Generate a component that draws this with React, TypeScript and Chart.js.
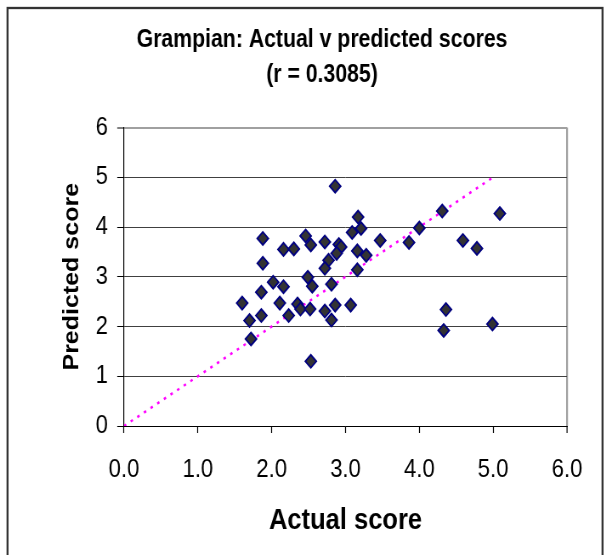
import React, { useEffect, useRef } from "react";
import { Chart, registerables } from "chart.js";

Chart.register(...registerables);

const titleLines = ["Grampian: Actual v predicted scores", "(r = 0.3085)"];
const xAxisTitle = "Actual score";
const yAxisTitle = "Predicted score";

const actualScores = [
  1.6, 1.7, 1.72, 1.88, 1.88, 1.86, 1.86, 2.02, 2.16, 2.3, 2.16, 2.11, 2.23, 2.35,
  2.39, 2.46, 2.53, 2.52, 2.49, 2.55, 2.53, 2.72, 2.77, 2.72, 2.72, 2.81, 2.81,
  2.86, 2.86, 2.91, 2.94, 2.88, 3.07, 3.09, 3.17, 3.21, 3.16, 3.28, 3.16, 3.47,
  3.86, 4.0, 4.31, 4.36, 4.33, 4.59, 4.78, 5.09, 4.99,
];
const predictedScores = [
  2.47, 2.12, 1.75, 3.77, 3.27, 2.69, 2.22, 2.89, 3.55, 3.56, 2.8, 2.47, 2.22, 2.45,
  2.35, 3.82, 3.64, 2.35, 2.99, 2.81, 1.3, 3.7, 3.33, 3.17, 2.31, 2.85, 2.13,
  4.82, 2.43, 3.65, 3.6, 3.47, 2.43, 3.89, 4.2, 3.97, 3.52, 3.43, 3.14, 3.73,
  3.69, 3.98, 4.32, 2.34, 1.92, 3.73, 3.57, 4.27, 2.05,
];
const trendX = [0, 5];
const trendY = [0, 5];

const xTicks = [0, 1, 2, 3, 4, 5, 6];
const yTicks = [0, 1, 2, 3, 4, 5, 6];

// The original picture is horizontally condensed; draw wider and squeeze.
const SQUEEZE = 0.85;
const OUT_W = 612;
const OUT_H = 555;
const CANVAS_W = Math.round(OUT_W / SQUEEZE);

const FONT = '"Liberation Sans", Arial, sans-serif';

const framePlugin = {
  id: "outerFrame",
  beforeDraw(chart: any) {
    const ctx = chart.ctx;
    ctx.save();
    ctx.fillStyle = "#ffffff";
    ctx.fillRect(0, 0, chart.width, chart.height);
    ctx.strokeStyle = "#333333";
    ctx.lineWidth = 2.3;
    ctx.strokeRect(7.5 / SQUEEZE, 8, 595 / SQUEEZE, 600);
    ctx.restore();
  },
};

const titleShiftPlugin = {
  id: "titleShift",
  afterLayout(chart: any) {
    const tb = chart.titleBlock;
    if (tb) {
      const center = 322 / SQUEEZE;
      const half = Math.max(tb.right - center, 10);
      tb.left = center - half;
      tb.right = center + half;
      tb.width = tb.right - tb.left;
    }
  },
};

export default function App() {
  const ref = useRef<HTMLCanvasElement | null>(null);

  useEffect(() => {
    if (!ref.current) return;
    const chart = new Chart(ref.current, {
      type: "scatter",
      data: {
        datasets: [
          {
            label: "Scores",
            data: actualScores.map((x, i) => ({ x, y: predictedScores[i] })),
            pointStyle: "rectRot",
            pointRadius: 6.5,
            pointHoverRadius: 6.5,
            backgroundColor: "#333333",
            borderColor: "#000080",
            borderWidth: 1.8,
            showLine: false,
          },
          {
            label: "Trend",
            data: trendX.map((x, i) => ({ x, y: trendY[i] })),
            showLine: true,
            borderColor: "#ff00ff",
            borderWidth: 2.5,
            borderDash: [3, 6],
            pointRadius: 0,
            fill: false,
          },
        ],
      },
      options: {
        animation: false,
        responsive: false,
        maintainAspectRatio: false,
        layout: { padding: { left: 20 / SQUEEZE, right: 45 / SQUEEZE, top: 8, bottom: 0 } },
        plugins: {
          legend: { display: false },
          tooltip: { enabled: false },
          title: {
            display: true,
            text: titleLines,
            color: "#000",
            font: { family: FONT, size: 25, weight: "bold", lineHeight: 35 / 25 },
            padding: { top: 14.5, bottom: 35 },
          },
        },
        scales: {
          x: {
            type: "linear",
            min: 0,
            max: 6,
            afterBuildTicks: (scale: any) => {
              scale.ticks = xTicks.map((v) => ({ value: v }));
            },
            afterFit: (scale: any) => {
              scale.height = 129;
            },
            border: { display: true, color: "#000", width: 1 },
            grid: {
              drawOnChartArea: true,
              color: (c: any) => (c.tick && c.tick.value === 6 ? "#a0a0a0" : "rgba(0,0,0,0)"),
              lineWidth: (c: any) => (c.tick && c.tick.value === 6 ? 2.2 : 1),
              tickColor: "#000",
              tickWidth: 1.2,
              tickLength: 7,
            },
            ticks: {
              color: "#000",
              font: { family: FONT, size: 26 },
              padding: 21,
              maxRotation: 0,
              callback: (v: any) => Number(v).toFixed(1),
            },
            title: {
              display: true,
              text: xAxisTitle,
              color: "#000",
              font: { family: FONT, size: 30, weight: "bold", lineHeight: 1.2 },
              padding: { top: 0, bottom: 16 },
            },
          },
          y: {
            type: "linear",
            min: 0,
            max: 6,
            afterBuildTicks: (scale: any) => {
              scale.ticks = yTicks.map((v) => ({ value: v }));
            },
            afterFit: (scale: any) => {
              scale.width = (124 - 20) / SQUEEZE;
            },
            border: { display: true, color: "#000", width: 1.2 },
            grid: {
              color: (c: any) => (c.tick && c.tick.value === 6 ? "#a0a0a0" : "#404040"),
              lineWidth: (c: any) => (c.tick && c.tick.value === 6 ? 2 : 1),
              tickColor: "#000",
              tickWidth: 1,
              tickLength: 8,
            },
            ticks: {
              color: "#000",
              font: { family: FONT, size: 26 },
              padding: 11,
              callback: (v: any) => String(v),
            },
            title: {
              display: true,
              text: yAxisTitle,
              color: "#000",
              font: { family: FONT, size: 25, weight: "bold", lineHeight: 1.2 },
              padding: { top: 52 / SQUEEZE - 15, bottom: 0 },
            },
          },
        },
      },
      plugins: [framePlugin, titleShiftPlugin],
    });
    return () => chart.destroy();
  }, []);

  return (
    <div
      style={{
        position: "absolute",
        left: 0,
        top: 0,
        width: OUT_W,
        height: OUT_H,
        overflow: "hidden",
        background: "#fff",
      }}
    >
      <canvas
        ref={ref}
        width={CANVAS_W}
        height={OUT_H}
        style={{
          display: "block",
          width: CANVAS_W,
          height: OUT_H,
          transform: `scaleX(${SQUEEZE})`,
          transformOrigin: "0 0",
        }}
      />
    </div>
  );
}
